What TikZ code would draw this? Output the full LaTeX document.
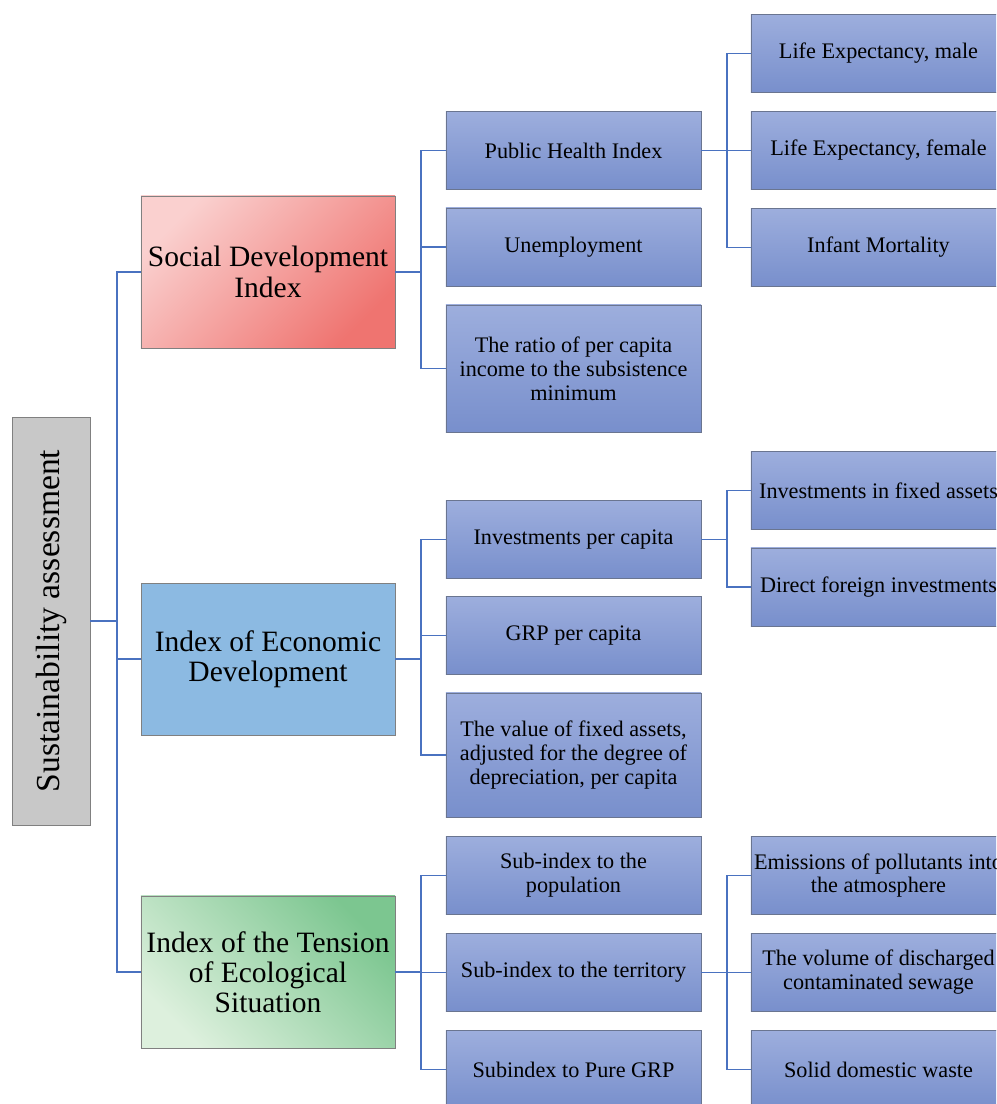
\documentclass[tikz,border=0pt]{standalone}
\usepackage{fontspec}
\setmainfont{Liberation Serif}
\usetikzlibrary{calc}
\definecolor{linkblue}{HTML}{4A72C0}
\definecolor{boxedge}{HTML}{6A7590}
\definecolor{leaftop}{HTML}{9DAEDD}
\definecolor{leafbot}{HTML}{788FCC}
\definecolor{pinklight}{HTML}{FAD0CF}
\definecolor{pinkdark}{HTML}{EF7470}
\definecolor{econblue}{HTML}{8CBAE2}
\definecolor{greenlight}{HTML}{DDF0DD}
\definecolor{greendark}{HTML}{7CC690}
\definecolor{rootgray}{HTML}{C8C8C8}

\begin{document}
\begin{tikzpicture}[x=0.025cm,y=-0.025cm,
    link/.style={draw=linkblue, line width=1.2pt},
    leaf/.style={draw=boxedge, top color=leaftop, bottom color=leafbot,
        minimum width=6.375cm, minimum height=1.95cm, align=center, inner sep=1pt,
        font=\fontsize{15.8}{17}\selectfont},
    index/.style={draw=gray, minimum width=6.35cm, minimum height=3.8cm,
        align=center, inner sep=1pt, font=\fontsize{21}{21.5}\selectfont}]
    \useasboundingbox (0,0) rectangle (996,1104);
    \clip (0,0) rectangle (996,1104);

    % root
    \node[draw=gray, fill=rootgray, rotate=90, minimum width=10.2cm, minimum height=1.95cm,
        font=\fontsize{23.9}{25}\selectfont] (root) at (51,621) {Sustainability assessment};
    \coordinate (trunk) at (117,621);

    % indices
    \node[index, top color=pinklight, bottom color=pinkdark, shading angle=45] (soc) at (268,272) {Social Development\\Index};
    \node[index, fill=econblue] (econ) at (268,659) {Index of Economic\\Development};
    \node[index, top color=greendark, bottom color=greenlight, shading angle=-45] (env) at (268,972) {Index of the Tension\\of Ecological\\Situation};

    % indicators
    \node[leaf] (pub) at (573.5,150.5) {Public Health Index};
    \node[leaf] (unemp) at (573.5,247) {Unemployment};
    \node[leaf, minimum height=3.175cm] (ratio) at (573.5,368.5) {The ratio of per capita\\income to the subsistence\\minimum};
    \node[leaf] (invpc) at (573.5,539.5) {Investments per capita};
    \node[leaf] (grp) at (573.5,635.5) {GRP per capita};
    \node[leaf, minimum height=3.1cm] (value) at (573.5,755) {The value of fixed assets,\\adjusted for the degree of\\depreciation, per capita};
    \node[leaf] (subpop) at (573.5,875.5) {Sub-index to the\\population};
    \node[leaf] (subter) at (573.5,972.5) {Sub-index to the territory};
    \node[leaf] (subgrp) at (573.5,1069.5) {Subindex to Pure GRP};

    % sub-indicators
    \node[leaf] (male) at (878.5,53.5) {Life Expectancy, male};
    \node[leaf] (female) at (878.5,150.5) {Life Expectancy, female};
    \node[leaf] (infant) at (878.5,247.5) {Infant Mortality};
    \node[leaf] (fixed) at (878.5,490.5) {Investments in fixed assets};
    \node[leaf] (foreign) at (878.5,587) {Direct foreign investments};
    \node[leaf] (emis) at (878.5,875.5) {Emissions of pollutants into\\the atmosphere};
    \node[leaf] (sewage) at (878.5,972.5) {The volume of discharged\\contaminated sewage};
    \node[leaf] (waste) at (878.5,1069.5) {Solid domestic waste};

    % connectors
    \draw[link] (root.south) -- (trunk);
    \foreach \n in {soc,econ,env}
        \draw[link] (trunk) |- (\n.west);
    \foreach \a/\b in {soc/pub,soc/unemp,soc/ratio,econ/invpc,econ/grp,econ/value,env/subpop,env/subter,env/subgrp,
        pub/male,pub/female,pub/infant,invpc/fixed,invpc/foreign,subter/emis,subter/sewage,subter/waste}
        \draw[link] (\a.east) -- ++(26,0) |- (\b.west);
\end{tikzpicture}
\end{document}
